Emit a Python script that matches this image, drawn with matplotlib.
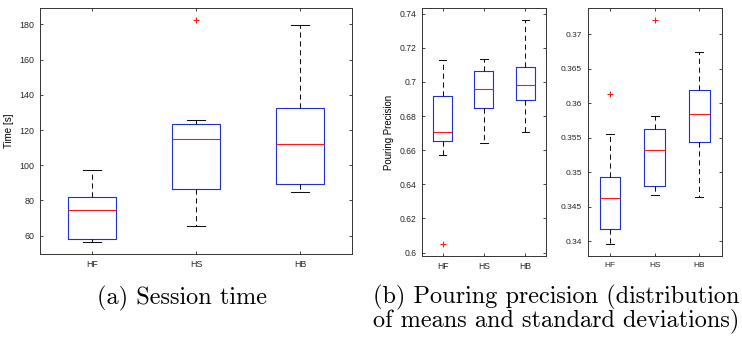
import matplotlib.pyplot as plt
from matplotlib.ticker import FuncFormatter

groups = ["HF", "HS", "HB"]

# (a) session time [s]
time_lo = [56.2, 65.3, 84.6]
time_q1 = [58.3, 86.5, 89.5]
time_med = [74.4, 115.1, 111.8]
time_q3 = [82.1, 123.2, 132.3]
time_hi = [97.1, 125.5, 179.8]
time_out = [[], [182.6], []]

# (b) pouring precision, means
mean_lo = [0.6571, 0.6640, 0.6706]
mean_q1 = [0.6651, 0.6847, 0.6892]
mean_med = [0.6708, 0.6958, 0.6980]
mean_q3 = [0.6919, 0.7064, 0.7085]
mean_hi = [0.7126, 0.7136, 0.7365]
mean_out = [[0.6049], [], []]

# (b) pouring precision, standard deviations
std_lo = [0.3396, 0.3467, 0.3464]
std_q1 = [0.3418, 0.3480, 0.3544]
std_med = [0.3463, 0.3532, 0.3584]
std_q3 = [0.3493, 0.3563, 0.3619]
std_hi = [0.3555, 0.3582, 0.3675]
std_out = [[0.3613], [0.3721], []]

plt.rcParams["font.family"] = ["Liberation Sans", "DejaVu Sans"]


def draw_box(ax, lo, q1, med, q3, hi, out, yticks, ylim, fs):
    stats = []
    for i, g in enumerate(groups):
        stats.append({"label": g, "whislo": lo[i], "q1": q1[i], "med": med[i],
                      "q3": q3[i], "whishi": hi[i], "fliers": out[i]})
    ax.bxp(
        stats,
        widths=0.46,
        capwidths=0.18,
        boxprops={"color": "#1f2fd0", "linewidth": 0.8},
        medianprops={"color": "#ff1a1a", "linewidth": 0.8},
        whiskerprops={"color": "#111111", "linewidth": 0.75, "linestyle": (0, (5, 3.5))},
        capprops={"color": "#111111", "linewidth": 0.75},
        flierprops={"marker": "+", "markeredgecolor": "#ff1a1a", "markersize": 4.5,
                    "markeredgewidth": 0.75},
    )
    ax.set_xlim(0.5, 3.5)
    ax.set_ylim(*ylim)
    ax.set_yticks(yticks)
    ax.yaxis.set_major_formatter(FuncFormatter(lambda v, p: f"{v:g}"))
    ax.tick_params(direction="in", top=True, right=True, length=2.2, width=0.6,
                   colors="#262626", labelsize=fs, pad=4)
    for s in ax.spines.values():
        s.set_linewidth(0.7)
        s.set_color("#333333")


fig = plt.figure(figsize=(7.42, 3.41), dpi=100)
ax_a = fig.add_axes([0.0539, 0.2551, 0.4205, 0.7214])
ax_b1 = fig.add_axes([0.5687, 0.2493, 0.1671, 0.7272])
ax_b2 = fig.add_axes([0.7921, 0.2493, 0.1806, 0.7272])

draw_box(ax_a, time_lo, time_q1, time_med, time_q3, time_hi, time_out,
         [60, 80, 100, 120, 140, 160, 180], (49.6, 189.3), 6.4)
ax_a.set_ylabel("Time [s]", fontsize=7, labelpad=4)

draw_box(ax_b1, mean_lo, mean_q1, mean_med, mean_q3, mean_hi, mean_out,
         [0.6, 0.62, 0.64, 0.66, 0.68, 0.7, 0.72, 0.74], (0.598, 0.7433), 6.2)
ax_b1.set_ylabel("Pouring Precision", fontsize=6.9, labelpad=4)

draw_box(ax_b2, std_lo, std_q1, std_med, std_q3, std_hi, std_out,
         [0.34, 0.345, 0.35, 0.355, 0.36, 0.365, 0.37], (0.3379, 0.3738), 6)

fig.text(182 / 742, 1 - 298 / 341, "(a) Session time", family="cmr10", fontsize=17.5,
         ha="center", va="center")
fig.text(373 / 742, 1 - 297 / 341, "(b) Pouring precision (distribution",
         family="cmr10", fontsize=17.5, ha="left", va="center")
fig.text(373 / 742, 1 - 321 / 341, "of means and standard deviations)",
         family="cmr10", fontsize=17.5, ha="left", va="center")

fig.savefig("out.png", dpi=100)
